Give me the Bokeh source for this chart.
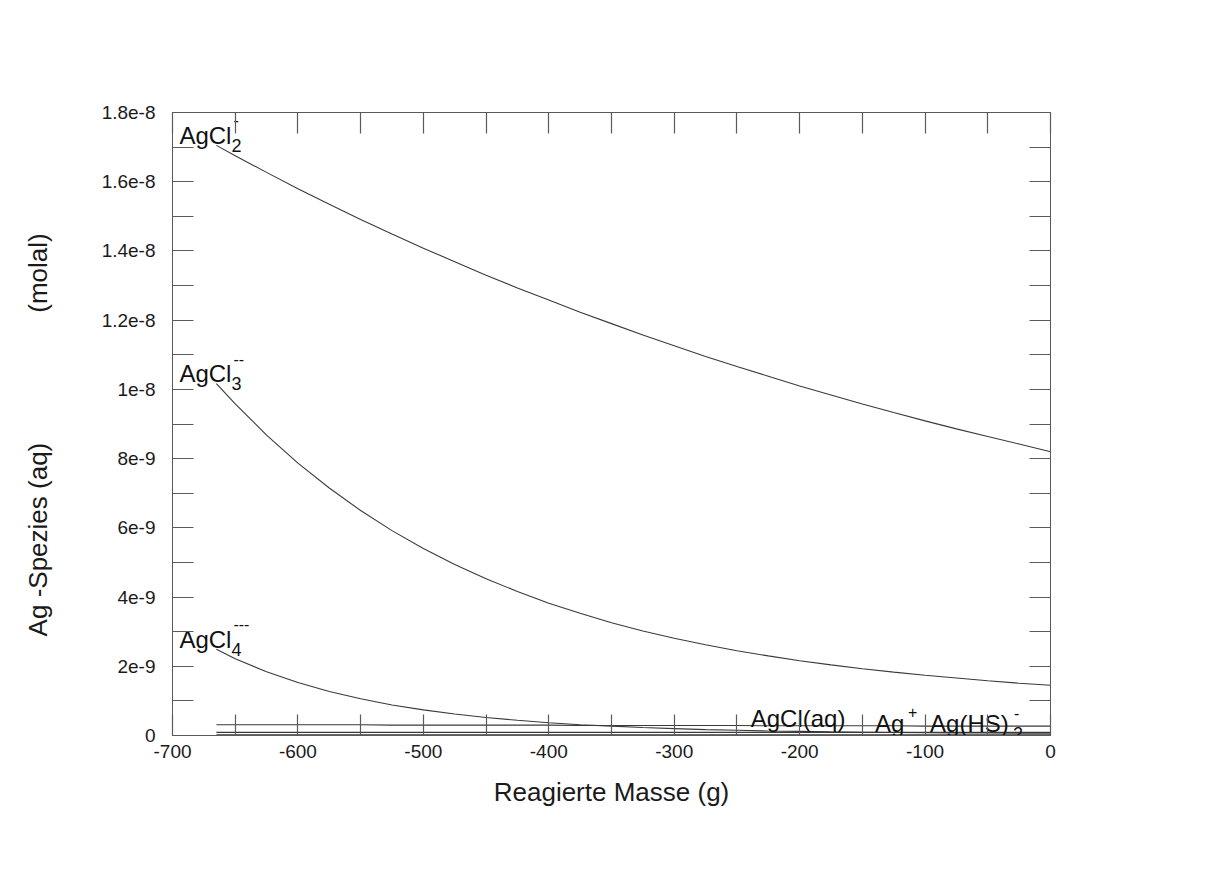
from bokeh.plotting import figure
from bokeh.models import (LinearAxis, FixedTicker, Range1d, CustomJSTickFormatter)
from bokeh.core.properties import value
from bokeh.embed import file_html
from bokeh.resources import INLINE

# Reacted mass (g)
mass = [-665, -650, -625, -600, -575, -550, -525, -500, -475, -450, -425, -400, -375, -350,
        -325, -300, -275, -250, -225, -200, -175, -150, -125, -100, -75, -50, -25, 0]

# Ag species concentrations (molal)
agcl2 = [17.05e-9, 16.75e-9, 16.27e-9, 15.80e-9, 15.35e-9, 14.91e-9, 14.49e-9, 14.08e-9,
         13.69e-9, 13.30e-9, 12.93e-9, 12.58e-9, 12.23e-9, 11.90e-9, 11.57e-9, 11.26e-9,
         10.95e-9, 10.66e-9, 10.38e-9, 10.10e-9, 9.84e-9, 9.58e-9, 9.33e-9, 9.09e-9,
         8.86e-9, 8.64e-9, 8.42e-9, 8.20e-9]
agcl3 = [10.17e-9, 9.58e-9, 8.68e-9, 7.87e-9, 7.15e-9, 6.50e-9, 5.92e-9, 5.40e-9,
         4.94e-9, 4.53e-9, 4.16e-9, 3.82e-9, 3.53e-9, 3.26e-9, 3.02e-9, 2.81e-9,
         2.62e-9, 2.45e-9, 2.30e-9, 2.16e-9, 2.04e-9, 1.93e-9, 1.83e-9, 1.74e-9,
         1.66e-9, 1.58e-9, 1.51e-9, 1.45e-9]
agcl4 = [2.49e-9, 2.22e-9, 1.84e-9, 1.53e-9, 1.27e-9, 1.06e-9, 0.88e-9, 0.74e-9,
         0.62e-9, 0.52e-9, 0.44e-9, 0.37e-9, 0.31e-9, 0.27e-9, 0.23e-9, 0.20e-9,
         0.17e-9, 0.15e-9, 0.13e-9, 0.12e-9, 0.106e-9, 0.096e-9, 0.088e-9, 0.082e-9,
         0.076e-9, 0.071e-9, 0.068e-9, 0.065e-9]
agcl_aq = [0.31e-9, 0.31e-9, 0.31e-9, 0.31e-9, 0.31e-9, 0.31e-9, 0.30e-9, 0.30e-9,
           0.30e-9, 0.30e-9, 0.30e-9, 0.30e-9, 0.29e-9, 0.29e-9, 0.29e-9, 0.29e-9,
           0.29e-9, 0.29e-9, 0.28e-9, 0.28e-9, 0.28e-9, 0.28e-9, 0.28e-9, 0.27e-9,
           0.27e-9, 0.27e-9, 0.27e-9, 0.27e-9]
ag_plus = [0.09e-9] * len(mass)
ag_hs2 = [0.02e-9] * len(mass)

# Axis ticks and their labels
x_ticks = [-700, -600, -500, -400, -300, -200, -100, 0]
x_tick_labels = ["-700", "-600", "-500", "-400", "-300", "-200", "-100", "0"]
x_minor = [-650, -550, -450, -350, -250, -150, -50]
y_ticks = [0, 2e-9, 4e-9, 6e-9, 8e-9, 1e-8, 1.2e-8, 1.4e-8, 1.6e-8, 1.8e-8]
y_tick_labels = ["0", "2e-9", "4e-9", "6e-9", "8e-9", "1e-8", "1.2e-8", "1.4e-8", "1.6e-8", "1.8e-8"]
y_minor = [1e-9, 3e-9, 5e-9, 7e-9, 9e-9, 1.1e-8, 1.3e-8, 1.5e-8, 1.7e-8]

FONT = "Liberation Sans"
INK = "#3a3a3a"
TICK = "#5a5a5a"

lookup = """
let best = 0;
for (let i = 0; i < tick_values.length; i++) {
  if (Math.abs(tick_values[i] - tick) < Math.abs(tick_values[best] - tick)) best = i;
}
return tick_labels[best];
"""

p = figure(width=1213, height=886, output_backend="svg", toolbar_location=None,
           x_range=Range1d(-700, 0), y_range=Range1d(0, 1.8e-8),
           min_border_left=172, min_border_right=163,
           min_border_top=112, min_border_bottom=151)
p.grid.visible = False
p.outline_line_color = TICK
p.outline_line_width = 1
p.background_fill_color = "white"
p.border_fill_color = "white"


def style_axis(ax, ticks, minor):
    ax.ticker = FixedTicker(ticks=ticks, minor_ticks=minor)
    ax.major_tick_in = 21
    ax.major_tick_out = 0
    ax.minor_tick_in = 21
    ax.minor_tick_out = 0
    ax.major_tick_line_color = TICK
    ax.minor_tick_line_color = TICK
    ax.major_tick_line_width = 1.2
    ax.minor_tick_line_width = 1.2
    ax.axis_line_color = TICK
    ax.axis_line_width = 1
    ax.major_label_text_font = FONT
    ax.major_label_text_font_size = "19px"
    ax.major_label_text_color = "#1a1a1a"
    ax.axis_label_text_font = FONT
    ax.axis_label_text_font_size = "26px"
    ax.axis_label_text_font_style = "normal"
    ax.axis_label_text_color = "#1a1a1a"


xa = p.xaxis[0]
style_axis(xa, x_ticks, x_minor)
xa.formatter = CustomJSTickFormatter(args=dict(tick_values=x_ticks, tick_labels=x_tick_labels),
                                     code=lookup)
xa.major_label_standoff = 9
xa.axis_label = "Reagierte Masse (g)"
xa.axis_label_standoff = 16

ya = p.yaxis[0]
style_axis(ya, y_ticks, y_minor)
ya.formatter = CustomJSTickFormatter(args=dict(tick_values=y_ticks, tick_labels=y_tick_labels),
                                     code=lookup)
ya.major_label_standoff = 17
ya.major_label_orientation = "horizontal"
ya.axis_label = "Ag -Spezies (aq)" + "\u00a0" * 18 + "(molal)" + "\u00a0" * 3
ya.axis_label_standoff = 46

blank = "return '';"
top = LinearAxis()
style_axis(top, x_ticks, x_minor)
top.formatter = CustomJSTickFormatter(code=blank)
p.add_layout(top, "above")

right = LinearAxis()
style_axis(right, y_ticks, y_minor)
right.formatter = CustomJSTickFormatter(code=blank)
p.add_layout(right, "right")

# Species curves
for series in (agcl2, agcl3, agcl4, agcl_aq, ag_plus, ag_hs2):
    p.line(mass, series, line_color=INK, line_width=1.1)


def chem_label(x, y, base, sub, sup, dx, dy, sub_dx, sup_dx, sub_dy=10, sup_dy=-15):
    common = dict(text_font=value(FONT), text_color="#111111",
                  text_align="left", text_baseline="alphabetic")
    p.text(x=[x], y=[y], text=[base], x_offset=dx, y_offset=dy,
           text_font_size="24px", **common)
    if sub:
        p.text(x=[x], y=[y], text=[sub], x_offset=dx + sub_dx, y_offset=dy + sub_dy,
               text_font_size="18px", **common)
    if sup:
        p.text(x=[x], y=[y], text=[sup], x_offset=dx + sup_dx, y_offset=dy + sup_dy,
               text_font_size="16px", **common)


# Labels at the start of each chloro-complex curve
chem_label(mass[0], agcl2[0], "AgCl", "2", "-", -37, -10, 52, 54)
chem_label(mass[0], agcl3[0], "AgCl", "3", "--", -37, -10, 52, 54)
chem_label(mass[0], agcl4[0], "AgCl", "4", "---", -37, -10, 52, 54)

# Labels of the minor species near the base line
chem_label(-239, 0, "AgCl(aq)", None, None, 0, -17, 0, 0)
chem_label(-140, 0, "Ag", None, "+", 0, -12, 0, 33, sup_dy=-12)
chem_label(-96, 0, "Ag(HS)", "2", "-", 0, -12, 83, 84, sub_dy=10, sup_dy=-11)

open("out.html", "w").write(file_html(p, INLINE))
